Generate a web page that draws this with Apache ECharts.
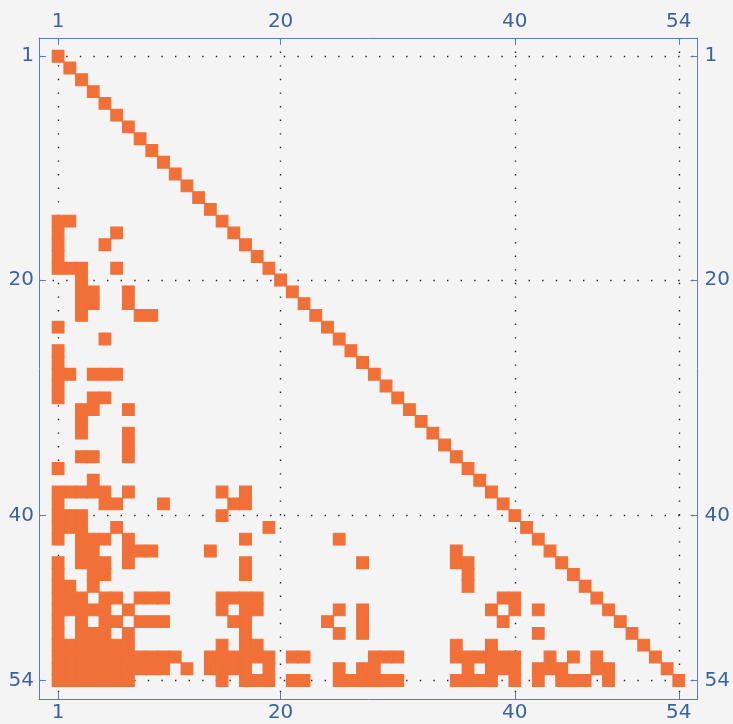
<!DOCTYPE html>
<html>
<head>
<meta charset="utf-8">
<script src="https://cdn.jsdelivr.net/npm/echarts@6/dist/echarts.min.js"></script>
<style>
  html, body { margin: 0; padding: 0; background: #f4f4f4; }
  #chart { width: 733px; height: 724px; }
</style>
</head>
<body>
<div id="chart"></div>
<script>
// matrix is 54 x 54, the diagonal is fully filled
var matrixSize = 54
var tickValues = [1, 20, 40, 54]
var diagonal = [1, 2, 3, 4, 5, 6, 7, 8, 9, 10, 11, 12, 13, 14, 15, 16, 17, 18,
  19, 20, 21, 22, 23, 24, 25, 26, 27, 28, 29, 30, 31, 32, 33, 34, 35, 36,
  37, 38, 39, 40, 41, 42, 43, 44, 45, 46, 47, 48, 49, 50, 51, 52, 53, 54]

// [row, [columns filled below the diagonal]]
var lowerEntries = [
  [15, [1, 2]],
  [16, [1, 6]],
  [17, [1, 5]],
  [18, [1]],
  [19, [1, 2, 3, 6]],
  [20, [3]],
  [21, [3, 4, 7]],
  [22, [3, 4, 7]],
  [23, [3, 8, 9]],
  [24, [1]],
  [25, [5]],
  [26, [1]],
  [27, [1]],
  [28, [1, 2, 4, 5, 6]],
  [29, [1]],
  [30, [1, 4, 5]],
  [31, [3, 4, 7]],
  [32, [3]],
  [33, [3, 7]],
  [34, [7]],
  [35, [3, 4, 7]],
  [36, [1]],
  [37, [4]],
  [38, [1, 2, 3, 4, 5, 7, 15, 17]],
  [39, [1, 5, 6, 10, 16, 17]],
  [40, [1, 2, 3, 15]],
  [41, [1, 2, 3, 6, 19]],
  [42, [1, 3, 4, 5, 7, 17, 25]],
  [43, [3, 4, 7, 8, 9, 14, 35]],
  [44, [1, 3, 4, 5, 7, 17, 27, 35, 36]],
  [45, [1, 4, 5, 17, 36]],
  [46, [1, 2, 4, 36]],
  [47, [1, 2, 3, 5, 6, 8, 9, 10, 15, 16, 17, 18, 39, 40]],
  [48, [1, 2, 3, 4, 5, 7, 15, 17, 18, 25, 27, 38, 40, 42]],
  [49, [1, 3, 5, 6, 8, 9, 10, 16, 17, 24, 27, 39]],
  [50, [1, 3, 4, 5, 7, 17, 25, 27, 42]],
  [51, [1, 2, 3, 4, 5, 6, 7, 15, 17, 18, 35, 38]],
  [52, [1, 2, 3, 4, 5, 6, 7, 8, 9, 10, 11, 14, 15, 16, 17, 18, 19, 21, 22,
        28, 29, 30, 35, 36, 37, 38, 39, 40, 43, 45, 47]],
  [53, [1, 2, 3, 4, 5, 6, 7, 8, 9, 10, 12, 14, 15, 16, 17, 19, 25, 27, 28,
        36, 38, 39, 40, 42, 43, 44, 47, 48]],
  [54, [1, 2, 3, 4, 5, 6, 7, 15, 17, 18, 19, 21, 22, 25, 26, 27, 28, 29, 30,
        35, 36, 37, 38, 40, 42, 44, 45, 46, 48]]
]

var cells = []
diagonal.forEach(function (d) { cells.push([d, d]) })
lowerEntries.forEach(function (e) {
  e[1].forEach(function (c) { cells.push([c, e[0]]) })
})

var frameColor = '#5a7fb6'
var labelColor = '#3a63a2'
var cellColor = '#f07038'

function axisBase(pos, margin, showSplit) {
  return {
    type: 'value',
    position: pos,
    min: pos === 'top' || pos === 'bottom' ? -0.63 : -0.55,
    max: pos === 'top' || pos === 'bottom' ? 55.6 : 55.57,
    inverse: pos === 'left' || pos === 'right',
    axisLine: { show: true, onZero: false, lineStyle: { color: frameColor, width: 1 } },
    axisTick: { show: true, inside: true, length: 7, customValues: tickValues,
      lineStyle: { color: frameColor, width: 1 } },
    axisLabel: { show: true, customValues: tickValues, margin: margin,
      color: labelColor, fontSize: 20, fontFamily: 'DejaVu Sans' },
    splitLine: { show: showSplit, lineStyle: { color: '#222', width: 1.4, type: [1.4, 12.2] } },
    minorTick: { show: false }
  }
}

var chart = echarts.init(document.getElementById('chart'))
chart.setOption({
  backgroundColor: '#f4f4f4',
  animation: false,
  grid: { left: 39, top: 38, right: 31, bottom: 25, containLabel: false },
  xAxis: [axisBase('top', 6, true), axisBase('bottom', 4, false)],
  yAxis: [axisBase('left', 5, true), axisBase('right', 7, false)],
  series: [{
    type: 'custom',
    xAxisIndex: 0,
    yAxisIndex: 0,
    data: cells,
    renderItem: function (params, api) {
      var c = api.value(0)
      var r = api.value(1)
      var p0 = api.coord([c - 0.5, r - 0.5])
      var p1 = api.coord([c + 0.5, r + 0.5])
      return {
        type: 'rect',
        shape: {
          x: Math.min(p0[0], p1[0]),
          y: Math.min(p0[1], p1[1]),
          width: Math.abs(p1[0] - p0[0]),
          height: Math.abs(p1[1] - p0[1])
        },
        // stroke in the fill colour hides the seams between cells
        style: { fill: cellColor, stroke: cellColor, lineWidth: 1.1 }
      }
    }
  }]
})
</script>
</body>
</html>
